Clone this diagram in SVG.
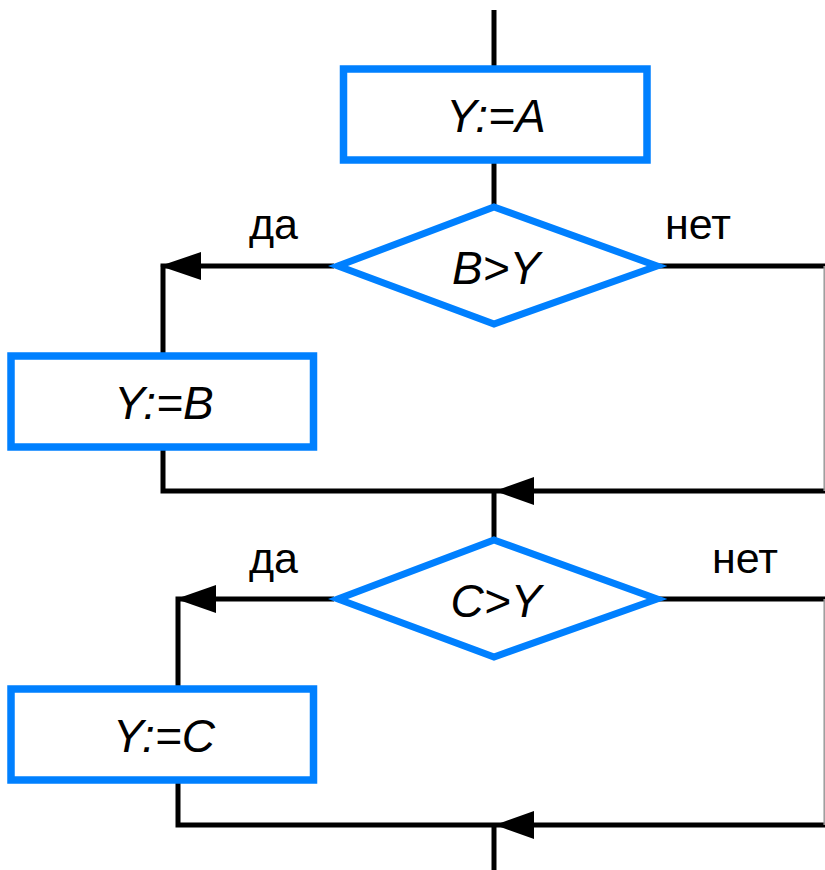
<svg xmlns="http://www.w3.org/2000/svg" width="825" height="870" viewBox="0 0 825 870">
  <style>
    .box { fill: #ffffff; stroke: #0080ff; stroke-width: 7.5; }
    .dec { fill: #ffffff; stroke: #0080ff; stroke-width: 7; stroke-linejoin: miter; stroke-miterlimit: 10; }
    .line { fill: none; stroke: #000000; stroke-width: 5; }
    .edge { fill: none; stroke: #9a9a9a; stroke-width: 1.5; }
    .head { fill: #000000; }
    .t { font-family: "Liberation Sans", Arial, sans-serif; font-size: 46px; font-style: italic; fill: #000000; text-anchor: middle; }
    .lbl { font-family: "Liberation Sans", Arial, sans-serif; font-size: 43px; fill: #000000; }
  </style>
  <rect width="825" height="870" fill="#ffffff"/>

  <g id="connectors">
    <!-- entry and main spine -->
    <line class="line" x1="494" y1="10" x2="494" y2="70"/>
    <line class="line" x1="494" y1="160" x2="494" y2="210"/>
    <line class="line" x1="494" y1="490" x2="494" y2="540"/>
    <line class="line" x1="494" y1="824" x2="494" y2="870"/>
    <!-- first branch -->
    <polyline class="line" points="334,266 163,266 163,356"/>
    <polyline class="line" points="163,447 163,491 494,491"/>
    <polyline class="line" points="658,266 825,266"/>
    <line class="line" x1="494" y1="491" x2="825" y2="491"/>
    <line class="edge" x1="824.2" y1="266" x2="824.2" y2="491"/>
    <polygon class="head" points="160,266 201,252 201,280"/>
    <polygon class="head" points="495,491 534,477 534,505"/>
    <!-- second branch -->
    <polyline class="line" points="334,599 178,599 178,689"/>
    <polyline class="line" points="178,780 178,825 494,825"/>
    <polyline class="line" points="658,599 825,599"/>
    <line class="line" x1="494" y1="825" x2="825" y2="825"/>
    <line class="edge" x1="824.2" y1="599" x2="824.2" y2="825"/>
    <polygon class="head" points="176,599 216,585 216,613"/>
    <polygon class="head" points="495,825 534,811 534,839"/>
    <!-- branch labels -->
    <text class="lbl" x="249" y="239">да</text>
    <text class="lbl" x="665" y="239">нет</text>
    <text class="lbl" x="249" y="573">да</text>
    <text class="lbl" x="712" y="573">нет</text>
  </g>

  <g id="assign-a">
    <rect class="box" x="343.5" y="69" width="303.5" height="91"/>
    <text class="t" x="496" y="132">Y:=A</text>
  </g>

  <g id="cond-b">
    <polygon class="dec" points="494,207 657,266 494,324 338,266"/>
    <text class="t" x="496" y="284">B&gt;Y</text>
  </g>

  <g id="assign-b">
    <rect class="box" x="11" y="356" width="302.5" height="91"/>
    <text class="t" x="164" y="419">Y:=B</text>
  </g>

  <g id="cond-c">
    <polygon class="dec" points="494,540 657,599 494,657 338,599"/>
    <text class="t" x="496" y="617">C&gt;Y</text>
  </g>

  <g id="assign-c">
    <rect class="box" x="11" y="689" width="302.5" height="91"/>
    <text class="t" x="164" y="752">Y:=C</text>
  </g>
</svg>
